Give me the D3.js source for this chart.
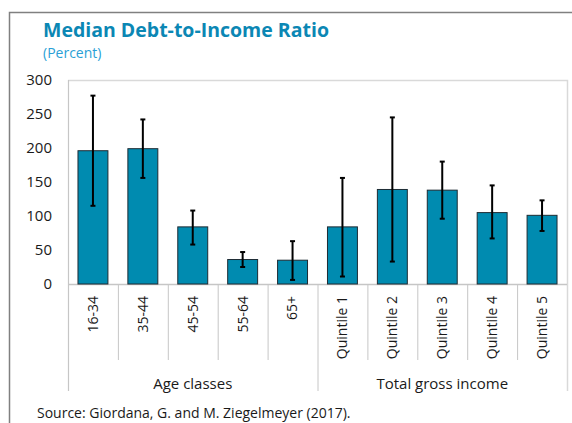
<!DOCTYPE html>
<html>
<head>
<meta charset="utf-8">
<script src="https://cdn.jsdelivr.net/npm/d3@7"></script>
<style>
  body { margin: 0; background: #fff; }
  svg text { font-family: "Open Sans", "Noto Sans", sans-serif; }
</style>
</head>
<body>
<svg id="chart" width="572" height="423"></svg>
<script>
// chart data
var categories = ["16-34", "35-44", "45-54", "55-64", "65+", "Quintile 1", "Quintile 2", "Quintile 3", "Quintile 4", "Quintile 5"];
var medianValues = [196, 199, 84, 36, 35, 84, 139, 138, 105, 101];
var errLow = [115, 156, 58, 25, 6, 11, 33, 96, 67, 78];
var errHigh = [277, 242, 108, 47, 63, 156, 245, 180, 145, 123];
var groupNames = ["Age classes", "Total gross income"];
var groupSizes = [5, 5];
var yTicks = [0, 50, 100, 150, 200, 250, 300];

var svg = d3.select("#chart");
var plotLeft = 68, plotRight = 567, plotTop = 80, plotBottom = 284;
var catBottom = 360, groupBottom = 391;

var rows = categories.map(function(c, i) {
    return {cat: c, value: medianValues[i], lo: errLow[i], hi: errHigh[i]};
});

var x = d3.scaleBand().domain(categories).range([plotLeft, plotRight]).paddingInner(0.4).paddingOuter(0.2);
var y = d3.scaleLinear().domain([0, 300]).range([plotBottom, plotTop]);

// outer frame (only top and left show)
svg.append("path")
    .attr("d", "M9.5,423V12.5H572")
    .style("fill", "none").style("stroke", "#808080").style("stroke-width", 1.5);

// title
svg.append("text").attr("x", 43).attr("y", 37)
    .style("font-size", "19.5px").style("font-weight", "bold").style("fill", "#0b87b4")
    .text("Median Debt-to-Income Ratio");
svg.append("text").attr("x", 43).attr("y", 58)
    .style("font-size", "14px").style("fill", "#2a9fd6")
    .text("(Percent)");

// plot border top and right
svg.append("path")
    .attr("d", "M" + plotLeft + "," + (plotTop + 0.5) + "H" + (plotRight + 0.5) + "V" + groupBottom)
    .style("fill", "none").style("stroke", "#d9d9d9").style("stroke-width", 1.5);

// y axis
var yAxis = svg.append("g").attr("transform", "translate(" + plotLeft + ",0)")
    .call(d3.axisLeft(y).tickValues(yTicks).tickSize(0).tickPadding(16));
yAxis.select(".domain").remove();
yAxis.selectAll("text").style("font-size", "15px").style("fill", "#1a1a1a")
    .style("font-family", "\"Open Sans\", sans-serif");

// left axis line + zero line
svg.append("line").attr("x1", plotLeft + 0.5).attr("x2", plotLeft + 0.5)
    .attr("y1", plotTop).attr("y2", groupBottom)
    .style("stroke", "#c6c6c6").style("stroke-width", 1.2);
svg.append("line").attr("x1", plotLeft).attr("x2", plotRight)
    .attr("y1", y(0) + 0.5).attr("y2", y(0) + 0.5)
    .style("stroke", "#c6c6c6").style("stroke-width", 1.5);

// category dividers
var step = x.step();
var bounds = d3.range(1, categories.length);
var groupEnds = Array.from(d3.cumsum(groupSizes));
svg.selectAll("line.div").data(bounds).enter().append("line")
    .attr("class", "div")
    .attr("x1", function(d) { return plotLeft + d * step + 0.5; })
    .attr("x2", function(d) { return plotLeft + d * step + 0.5; })
    .attr("y1", plotBottom)
    .attr("y2", function(d) { return groupEnds.indexOf(d) >= 0 ? groupBottom : catBottom; })
    .style("stroke", "#c6c6c6").style("stroke-width", 1);

// bars
svg.selectAll("rect.bar").data(rows).enter().append("rect")
    .attr("class", "bar")
    .attr("x", function(d) { return x(d.cat); })
    .attr("y", function(d) { return y(d.value); })
    .attr("width", x.bandwidth())
    .attr("height", function(d) { return y(0) - y(d.value); })
    .style("fill", "#008bb0").style("stroke", "#1e2b33").style("stroke-width", 1);

// error bars
var eb = svg.selectAll("g.err").data(rows).enter().append("g")
    .attr("class", "err")
    .attr("transform", function(d) { return "translate(" + (x(d.cat) + x.bandwidth() / 2) + ",0)"; });
eb.append("line").attr("y1", function(d) { return y(d.lo); }).attr("y2", function(d) { return y(d.hi); })
    .style("stroke", "#000").style("stroke-width", 2);
eb.append("line").attr("x1", -2.5).attr("x2", 2.5)
    .attr("y1", function(d) { return y(d.hi); }).attr("y2", function(d) { return y(d.hi); })
    .style("stroke", "#000").style("stroke-width", 2);
eb.append("line").attr("x1", -2.5).attr("x2", 2.5)
    .attr("y1", function(d) { return y(d.lo); }).attr("y2", function(d) { return y(d.lo); })
    .style("stroke", "#000").style("stroke-width", 2);

// category labels (rotated)
svg.selectAll("text.cat").data(categories).enter().append("text")
    .attr("class", "cat")
    .attr("transform", function(d) { return "translate(" + (x(d) + x.bandwidth() / 2) + ",296) rotate(-90)"; })
    .attr("dy", "0.35em")
    .attr("text-anchor", "end")
    .style("font-size", "14px").style("fill", "#1a1a1a")
    .text(function(d) { return d; });

// group labels
var groupStart = [0].concat(groupEnds.slice(0, -1));
svg.selectAll("text.grp").data(groupNames).enter().append("text")
    .attr("class", "grp")
    .attr("x", function(d, i) { return plotLeft + (groupStart[i] + groupSizes[i] / 2) * step; })
    .attr("y", 389)
    .attr("text-anchor", "middle")
    .style("font-size", "15px").style("fill", "#1a1a1a")
    .text(function(d) { return d; });

// source
svg.append("text").attr("x", 37).attr("y", 418)
    .style("font-size", "14px").style("fill", "#1a1a1a")
    .text("Source: Giordana, G. and M. Ziegelmeyer (2017).");
</script>
</body>
</html>
